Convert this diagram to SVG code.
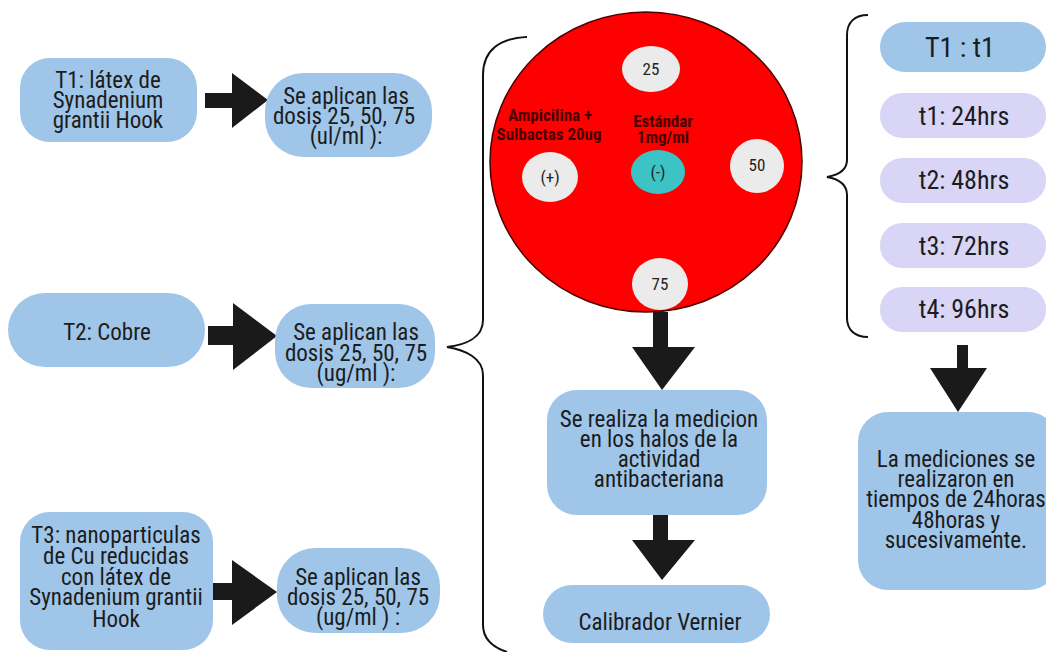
<svg xmlns="http://www.w3.org/2000/svg" width="1046" height="652" viewBox="0 0 1046 652">
<style>
.box{fill:#9fc5e8}
.lav{fill:#d9d5f7}
.t{font-family:"Roboto Condensed",Roboto,"Liberation Sans",sans-serif;font-stretch:condensed;font-size:23px;fill:#1c1c1c;text-anchor:middle}
.big{font-size:26px}
.disc{fill:#ebebeb}
.dl{font-family:"Roboto Condensed",Roboto,"Liberation Sans",sans-serif;font-stretch:condensed;font-size:17px;fill:#222;text-anchor:middle}
.lab{font-family:"Roboto Condensed",Roboto,"Liberation Sans",sans-serif;font-stretch:condensed;font-size:17px;font-weight:bold;fill:#4a0000;text-anchor:middle}
.arr{fill:#1a1a1a}
.brace{fill:none;stroke:#111;stroke-width:2}
</style>
<rect width="1046" height="652" fill="#ffffff"/>

<g id="connectors">
<polygon class="arr" points="205,93 232,93 232,73 268,100 232,128 232,108 205,108"/>
<polygon class="arr" points="208,326 233,326 233,303 277,336 233,370 233,345 208,345"/>
<polygon class="arr" points="210,583 232,583 232,560 277,592 232,625 232,600 210,600"/>
<polygon class="arr" points="653,312 668,312 668,347 695,347 662,390 632,347 653,347"/>
<polygon class="arr" points="653,515 668,515 668,540 695,540 662,580 632,540 653,540"/>
<polygon class="arr" points="957,345 968,345 968,368 987,368 958,412 930,368 957,368"/>
<path class="brace" d="M527,37 C500,38 483,50 483,75 L483,320 C483,338 465,345 447,347 C465,350 483,358 483,375 L483,625 C483,640 495,648 507,652"/>
<path class="brace" d="M868,15 C855,15 847,22 847,35 L847,160 C847,170 838,175 827,177 C838,179 847,184 847,195 L847,318 C847,330 855,337 868,337"/>
</g>

<g id="t1">
<rect class="box" x="20" y="58" width="177" height="84" rx="30"/>
<text class="t" x="108" y="88">T1:  látex de</text>
<text class="t" x="108" y="108">Synadenium</text>
<text class="t" x="108" y="128">grantii Hook</text>
</g>
<g id="dose1">
<rect class="box" x="265" y="73" width="167" height="84" rx="38"/>
<text class="t" x="346" y="104">Se aplican las</text>
<text class="t" x="344" y="124">dosis 25, 50, 75</text>
<text class="t" x="346" y="144">(ul/ml ):</text>
</g>
<g id="t2">
<rect class="box" x="8" y="293" width="197" height="74" rx="37"/>
<text class="t" x="107" y="340">T2: Cobre</text>
</g>
<g id="dose2">
<rect class="box" x="275" y="304" width="160" height="84" rx="36"/>
<text class="t" x="356" y="340">Se aplican las</text>
<text class="t" x="356" y="361">dosis 25, 50, 75</text>
<text class="t" x="356" y="381">(ug/ml ):</text>
</g>
<g id="t3">
<rect class="box" x="20" y="512" width="193" height="138" rx="30"/>
<text class="t" x="116" y="543">T3: nanoparticulas</text>
<text class="t" x="116" y="564">de Cu reducidas</text>
<text class="t" x="116" y="585">con látex de</text>
<text class="t" x="116" y="605">Synadenium grantii</text>
<text class="t" x="116" y="627">Hook</text>
</g>
<g id="dose3">
<rect class="box" x="277" y="548" width="163" height="85" rx="38"/>
<text class="t" x="358" y="585">Se aplican las</text>
<text class="t" x="358" y="605">dosis 25, 50, 75</text>
<text class="t" x="358" y="625">(ug/ml ) :</text>
</g>

<g id="plate">
<ellipse cx="646" cy="162" rx="156" ry="150" fill="#ff0000" stroke="#4a0000" stroke-width="1.5"/>
<ellipse class="disc" cx="651" cy="69" rx="29" ry="23"/>
<text class="dl" x="651" y="75">25</text>
<ellipse class="disc" cx="550" cy="177" rx="28" ry="25"/>
<text class="dl" x="550" y="183">(+)</text>
<ellipse cx="658" cy="172" rx="27" ry="22" fill="#3cc3c6"/>
<text class="dl" x="658" y="178">(-)</text>
<ellipse class="disc" cx="757" cy="166" rx="27" ry="27"/>
<text class="dl" x="757" y="171">50</text>
<ellipse class="disc" cx="660" cy="284" rx="28" ry="26"/>
<text class="dl" x="660" y="290">75</text>
<text class="lab" x="550" y="121">Ampicilina +</text>
<text class="lab" x="549" y="140">Sulbactas 20ug</text>
<text class="lab" x="663" y="127">Estándar</text>
<text class="lab" x="663" y="143">1mg/ml</text>
</g>

<g id="medicion">
<rect class="box" x="547" y="390" width="220" height="125" rx="30"/>
<text class="t" x="659" y="427">Se realiza la medicion</text>
<text class="t" x="659" y="447">en los halos de la</text>
<text class="t" x="659" y="467">actividad</text>
<text class="t" x="659" y="487">antibacteriana</text>
</g>
<g id="calibrador">
<rect class="box" x="543" y="585" width="227" height="58" rx="29"/>
<text class="t" x="660" y="630">Calibrador Vernier</text>
</g>

<g id="tT1">
<rect class="box" x="880" y="22" width="166" height="50" rx="25"/>
<text class="t" x="960" y="57" style="font-size:28px">T1 : t1</text>
</g>
<g id="tt1">
<rect class="lav" x="880" y="93" width="166" height="45" rx="22"/>
<text class="t big" x="964" y="125">t1: 24hrs</text>
</g>
<g id="tt2">
<rect class="lav" x="880" y="158" width="166" height="45" rx="22"/>
<text class="t big" x="964" y="189">t2: 48hrs</text>
</g>
<g id="tt3">
<rect class="lav" x="880" y="223" width="166" height="45" rx="22"/>
<text class="t big" x="964" y="255">t3: 72hrs</text>
</g>
<g id="tt4">
<rect class="lav" x="880" y="287" width="166" height="45" rx="22"/>
<text class="t big" x="964" y="318">t4: 96hrs</text>
</g>
<g id="mediciones">
<rect class="box" x="858" y="412" width="200" height="178" rx="30"/>
<text class="t" x="956" y="467">La mediciones se</text>
<text class="t" x="956" y="487">realizaron en</text>
<text class="t" x="956" y="507">tiempos de 24horas</text>
<text class="t" x="956" y="528">48horas y</text>
<text class="t" x="956" y="548">sucesivamente.</text>
</g>
</svg>
